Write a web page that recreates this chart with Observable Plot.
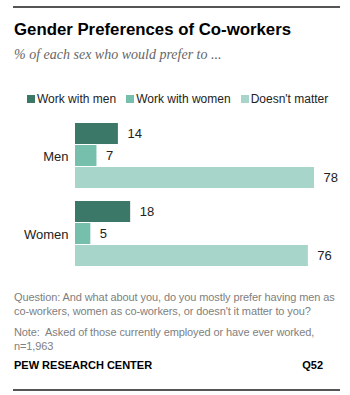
<!DOCTYPE html>
<html>
<head>
<meta charset="utf-8">
<script src="https://cdn.jsdelivr.net/npm/d3@7"></script>
<script src="https://cdn.jsdelivr.net/npm/@observablehq/plot@0.6"></script>
<style>
  html, body { margin: 0; padding: 0; background: #fff; }
  #wrap { position: relative; width: 350px; height: 395px; font-family: "Liberation Sans", Arial, sans-serif; }
  .rule { position: absolute; left: 13px; width: 327px; height: 2px; background: #555; }
  .title { position: absolute; left: 14px; top: 20px; font-size: 16.8px; font-weight: bold; color: #000; white-space: nowrap; }
  .subtitle { position: absolute; left: 14px; top: 47px; font-family: "Liberation Serif", Georgia, serif; font-style: italic; font-size: 14px; color: #666; white-space: nowrap; }
  .legend { position: absolute; left: 27px; top: 92px; font-size: 12px; color: #222; white-space: nowrap; display: flex; align-items: center; }
  .legend span.sw { display: inline-block; width: 8px; height: 8px; margin-right: 2px; }
  .legend span.item { display: inline-flex; align-items: center; margin-right: 10px; }
  .foot { position: absolute; left: 14px; font-size: 11px; letter-spacing: -0.1px; color: #808080; line-height: 14px; width: 330px; }
  .source { position: absolute; left: 14px; top: 359px; font-size: 11px; font-weight: bold; color: #000; }
  .qnum { position: absolute; right: 27px; top: 359px; font-size: 11px; font-weight: bold; color: #000; }
  #chart { position: absolute; left: 0; top: 115px; }
</style>
</head>
<body>
<div id="wrap">
  <div class="rule" style="top:6px"></div>
  <div class="title">Gender Preferences of Co-workers</div>
  <div class="subtitle">% of each sex who would prefer to ...</div>
  <div class="legend" id="legend"></div>
  <div id="chart"></div>
  <div class="foot" style="top:290px">Question: And what about you, do you mostly prefer having men as<br>co-workers, women as co-workers, or doesn't it matter to you?</div>
  <div class="foot" style="top:325px">Note:&nbsp; Asked of those currently employed or have ever worked,<br>n=1,963</div>
  <div class="source">PEW RESEARCH CENTER</div>
  <div class="qnum">Q52</div>
  <div class="rule" style="top:389px"></div>
</div>
<script>
const groups = ["Men", "Women"];
const series = ["Work with men", "Work with women", "Doesn't matter"];
const menValues = [14, 7, 78];
const womenValues = [18, 5, 76];
const colors = ["#3b7867", "#76bfad", "#a7d5c9"];

const data = [];
series.forEach((s, i) => {
  data.push({group: "Men", series: s, value: menValues[i]});
  data.push({group: "Women", series: s, value: womenValues[i]});
});

const legend = document.getElementById("legend");
series.forEach((s, i) => {
  const it = document.createElement("span");
  it.className = "item";
  const sw = document.createElement("span");
  sw.className = "sw";
  sw.style.background = colors[i];
  it.appendChild(sw);
  it.appendChild(document.createTextNode(s));
  legend.appendChild(it);
});

const maxV = d3.max(data, d => d.value);

const chart = Plot.plot({
  width: 350,
  height: 160,
  marginLeft: 75,
  marginRight: 36,
  marginTop: 8,
  marginBottom: 7,
  style: {fontFamily: "'Liberation Sans', Arial, sans-serif", fontSize: "13px", color: "#222", background: "transparent"},
  x: {domain: [0, maxV], axis: null},
  y: {domain: series, axis: null, paddingInner: 0.03, paddingOuter: 0},
  fy: {domain: groups, paddingInner: 0.15, paddingOuter: 0, label: null},
  color: {domain: series, range: colors},
  marks: [
    Plot.axisFy({anchor: "left", tickSize: 0, tickPadding: 7, label: null, fontSize: 13, color: "#222"}),
    Plot.barX(data, {fy: "group", y: "series", x: "value", fill: "series"}),
    Plot.text(data, {fy: "group", y: "series", x: "value", text: d => String(d.value), textAnchor: "start", dx: 9, fontSize: 13, fill: "#222"})
  ]
});
document.getElementById("chart").appendChild(chart);
</script>
</body>
</html>
